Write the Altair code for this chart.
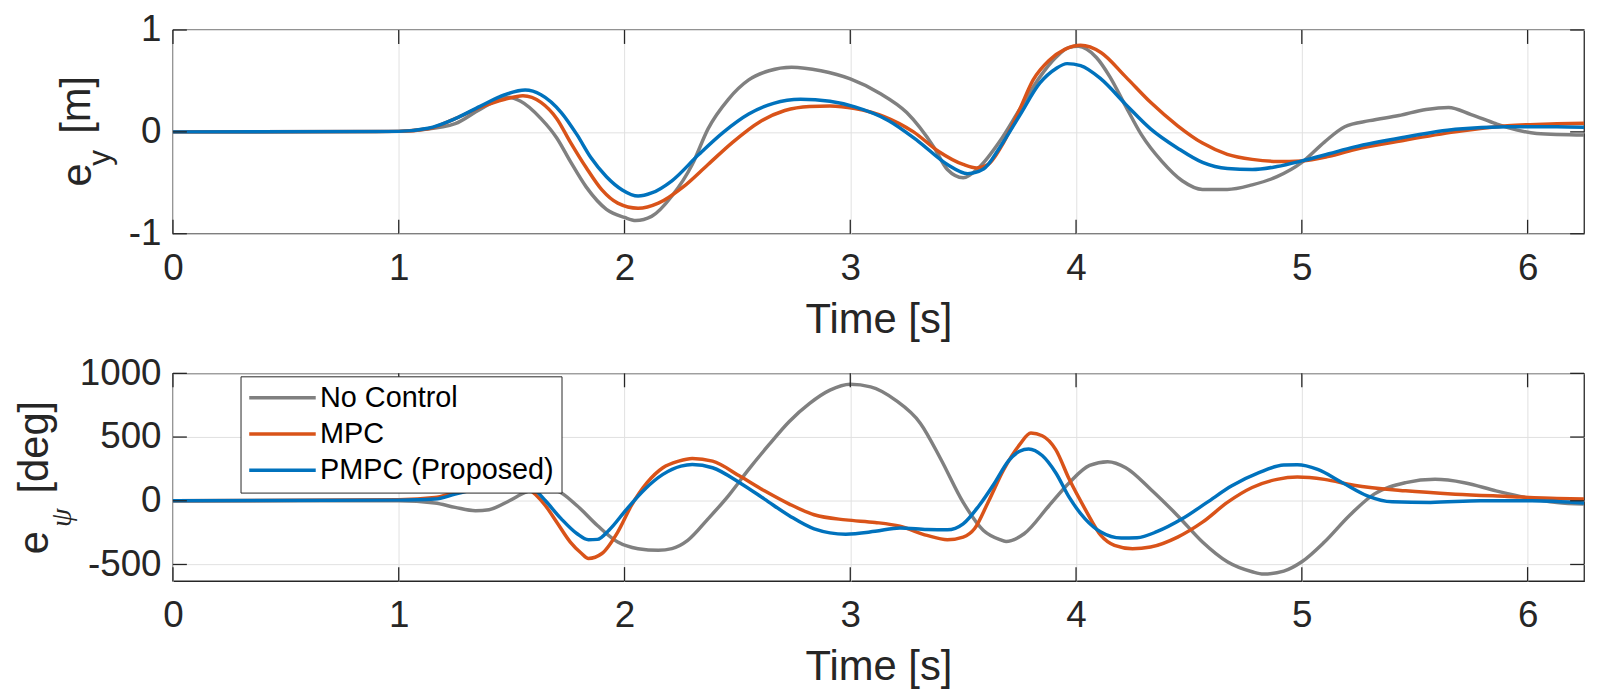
import altair as alt
import pandas as pd

SERIES = ["No Control", "MPC", "PMPC (Proposed)"]
COLORS = ["#808080", "#D95319", "#0072BD"]

# ---------------- e_y [m] ----------------
T_NC_EY = [0, 0.8, 1.0, 1.1, 1.25, 1.36, 1.48, 1.54, 1.63, 1.70, 1.76, 1.83, 1.92, 2.0, 2.05, 2.12,
           2.21, 2.30, 2.37, 2.46, 2.55, 2.64, 2.74, 2.87, 3.0, 3.13, 3.25, 3.37, 3.43, 3.50, 3.57,
           3.66, 3.75, 3.84, 3.91, 3.97, 4.01, 4.09, 4.15, 4.22, 4.29, 4.38, 4.47, 4.56, 4.67, 4.78,
           4.89, 5.0, 5.10, 5.19, 5.30, 5.43, 5.55, 5.65, 5.75, 5.86, 5.95, 6.04, 6.25]
NC_EY = [0, 0, 0.005, 0.02, 0.08, 0.22, 0.34, 0.30, 0.13, -0.06, -0.29, -0.54, -0.76, -0.84, -0.87,
         -0.83, -0.63, -0.32, 0.03, 0.32, 0.51, 0.60, 0.635, 0.60, 0.52, 0.38, 0.19, -0.15, -0.37,
         -0.45, -0.35, -0.10, 0.22, 0.54, 0.73, 0.83, 0.84, 0.73, 0.54, 0.25, -0.03, -0.29, -0.48,
         -0.565, -0.565, -0.52, -0.44, -0.30, -0.10, 0.05, 0.11, 0.16, 0.22, 0.24, 0.17, 0.08, 0.02,
         -0.015, -0.03]

T_MPC_EY = [0, 1.0, 1.13, 1.25, 1.36, 1.47, 1.55, 1.63, 1.70, 1.76, 1.83, 1.90, 1.97, 2.06, 2.15,
            2.26, 2.37, 2.48, 2.60, 2.71, 2.82, 2.91, 3.02, 3.15, 3.28, 3.39, 3.50, 3.56, 3.61, 3.68,
            3.75, 3.81, 3.88, 3.95, 4.02, 4.11, 4.22, 4.33, 4.45, 4.56, 4.67, 4.78, 4.89, 5.0, 5.12,
            5.23, 5.46, 5.68, 5.91, 6.13, 6.25]
MPC_EY = [0, 0.005, 0.03, 0.13, 0.24, 0.32, 0.355, 0.29, 0.13, -0.10, -0.35, -0.57, -0.70, -0.75,
          -0.70, -0.54, -0.32, -0.10, 0.10, 0.21, 0.25, 0.255, 0.23, 0.15, 0.0, -0.19, -0.32, -0.355,
          -0.32, -0.10, 0.22, 0.51, 0.70, 0.81, 0.85, 0.78, 0.54, 0.29, 0.06, -0.11, -0.22, -0.27,
          -0.29, -0.285, -0.24, -0.175, -0.08, 0.0, 0.06, 0.08, 0.085]

T_PMPC_EY = [0, 1.0, 1.13, 1.25, 1.36, 1.47, 1.56, 1.63, 1.72, 1.79, 1.85, 1.92, 1.99, 2.06, 2.12,
             2.21, 2.33, 2.44, 2.55, 2.66, 2.78, 2.91, 3.02, 3.17, 3.30, 3.43, 3.52, 3.59, 3.66, 3.75,
             3.84, 3.91, 3.96, 4.02, 4.11, 4.22, 4.33, 4.45, 4.56, 4.67, 4.78, 4.89, 5.0, 5.12, 5.23,
             5.46, 5.68, 5.91, 6.13, 6.25]
PMPC_EY = [0, 0.005, 0.035, 0.13, 0.25, 0.365, 0.41, 0.365, 0.19, -0.03, -0.25, -0.44, -0.57, -0.63,
           -0.60, -0.48, -0.22, 0.0, 0.175, 0.28, 0.32, 0.30, 0.245, 0.11, -0.09, -0.32, -0.41,
           -0.365, -0.16, 0.16, 0.48, 0.62, 0.67, 0.65, 0.52, 0.27, 0.03, -0.16, -0.30, -0.36, -0.37,
           -0.34, -0.285, -0.215, -0.15, -0.05, 0.025, 0.05, 0.05, 0.045]

# ---------------- e_psi [deg] ----------------
T_NC_EP = [0, 1.0, 1.16, 1.25, 1.34, 1.40, 1.49, 1.56, 1.62, 1.70, 1.79, 1.88, 1.97, 2.06, 2.15, 2.21,
           2.28, 2.37, 2.46, 2.55, 2.64, 2.73, 2.82, 2.91, 3.0, 3.09, 3.20, 3.31, 3.40, 3.50, 3.59,
           3.66, 3.69, 3.77, 3.88, 3.97, 4.06, 4.14, 4.22, 4.33, 4.45, 4.56, 4.67, 4.78, 4.83, 4.92,
           5.0, 5.10, 5.21, 5.32, 5.46, 5.59, 5.72, 5.86, 5.99, 6.13, 6.25]
NC_EP = [0, 0, -18, -52, -78, -70, 0, 65, 96, 78, -39, -194, -324, -376, -389, -376, -311, -142, 39,
         246, 440, 622, 764, 868, 914, 894, 790, 609, 330, -13, -233, -303, -319, -259, -39, 142, 277,
         306, 259, 91, -117, -324, -479, -557, -575, -552, -479, -324, -117, 52, 142, 168, 142, 78,
         26, -13, -26]

T_MPC_EP = [0, 1.0, 1.16, 1.25, 1.35, 1.45, 1.52, 1.57, 1.65, 1.70, 1.76, 1.81, 1.84, 1.90, 1.97,
            2.03, 2.10, 2.17, 2.24, 2.30, 2.39, 2.51, 2.62, 2.73, 2.84, 2.98, 3.11, 3.22, 3.34, 3.43,
            3.50, 3.55, 3.61, 3.68, 3.75, 3.80, 3.85, 3.91, 3.97, 4.04, 4.11, 4.17, 4.25, 4.33, 4.45,
            4.56, 4.67, 4.78, 4.89, 4.98, 5.10, 5.23, 5.46, 5.68, 5.91, 6.13, 6.25]
MPC_EP = [0, 8, 26, 65, 100, 130, 125, 98, -39, -168, -324, -414, -453, -414, -246, -39, 142, 259,
          311, 332, 311, 194, 78, -26, -110, -150, -170, -200, -272, -306, -285, -220, -13, 246, 440,
          531, 510, 401, 168, -65, -272, -350, -376, -363, -285, -168, -13, 104, 168, 186, 168, 122,
          78, 52, 34, 18, 13]

T_PMPC_EP = [0, 1.0, 1.16, 1.25, 1.35, 1.45, 1.52, 1.56, 1.60, 1.65, 1.72, 1.79, 1.84, 1.88, 1.93,
             2.01, 2.09, 2.17, 2.25, 2.30, 2.39, 2.51, 2.62, 2.73, 2.84, 2.98, 3.11, 3.22, 3.34, 3.43,
             3.50, 3.57, 3.64, 3.70, 3.75, 3.79, 3.85, 3.91, 3.97, 4.04, 4.11, 4.20, 4.27, 4.36, 4.47,
             4.58, 4.69, 4.81, 4.92, 4.98, 5.07, 5.18, 5.29, 5.40, 5.57, 5.79, 6.02, 6.25]
PMPC_EP = [0, 5, 13, 52, 95, 125, 135, 125, 91, 0, -142, -259, -306, -303, -233, -65, 91, 207, 272,
           285, 259, 142, 13, -117, -220, -262, -240, -213, -225, -228, -181, -39, 142, 311, 389, 407,
           355, 220, 26, -142, -246, -293, -290, -241, -142, -13, 117, 220, 280, 282, 246, 142, 39, -8,
           -13, 0, 0, -18]

X_TICKS = [0, 1, 2, 3, 4, 5, 6]
X_DOMAIN = [0, 6.25]
EY_TICKS = [-1, 0, 1]
EY_DOMAIN = [-1, 1]
EP_TICKS = [-500, 0, 500, 1000]
EP_DOMAIN = [-630, 1000]
X_TITLE = "Time [s]"
Y_TITLE_TOP = ["e", "y", "[m]"]
Y_TITLE_BOT = ["e", "ψ", "[deg]"]

# ---------------- styling ----------------
W = 1420
H_TOP = 205
H_BOT = 209
AX = "#262626"
GRID = "#e1e1e1"
FONT = "Liberation Sans"
TICK_LEN = 14


def frame(pairs):
    rows = []
    for name, ts, vs in pairs:
        for t, v in zip(ts, vs):
            rows.append({"t": t, "v": v, "series": name})
    return pd.DataFrame(rows)


def panel(df, y_domain, y_ticks, height, title_parts, legend):
    xenc = alt.X("t:Q", scale=alt.Scale(domain=X_DOMAIN, nice=False, zero=False),
                 axis=alt.Axis(values=X_TICKS, title=X_TITLE, labelExpr="toString(datum.value)"))
    yenc = alt.Y("v:Q", scale=alt.Scale(domain=y_domain, nice=False, zero=False),
                 axis=alt.Axis(values=y_ticks, title=None, labelExpr="toString(datum.value)"))
    lines = alt.Chart(df).mark_line(strokeWidth=3.5, interpolate="monotone").encode(
        x=xenc, y=yenc,
        color=alt.Color("series:N", scale=alt.Scale(domain=SERIES, range=COLORS),
                        sort=SERIES, legend=legend),
    )
    xt = pd.DataFrame({"t": X_TICKS})
    yt = pd.DataFrame({"v": y_ticks})
    rule = dict(color=AX, strokeWidth=1.3)
    xtop = alt.Chart(xt).mark_rule(**rule).encode(x=xenc, y=alt.value(0), y2=alt.value(TICK_LEN))
    xbot = alt.Chart(xt).mark_rule(**rule).encode(x=xenc, y=alt.value(height - TICK_LEN),
                                                  y2=alt.value(height))
    yleft = alt.Chart(yt).mark_rule(**rule).encode(y=yenc, x=alt.value(0), x2=alt.value(TICK_LEN))
    yright = alt.Chart(yt).mark_rule(**rule).encode(y=yenc, x=alt.value(W - TICK_LEN),
                                                    x2=alt.value(W))
    texts = []
    for label, x, y, size, font, style in title_parts:
        texts.append(
            alt.Chart(pd.DataFrame({"label": [label]})).mark_text(
                align="left", baseline="alphabetic", angle=270, fontSize=size, font=font,
                fontStyle=style, color=AX,
            ).encode(text="label:N", x=alt.value(x), y=alt.value(y))
        )
    return alt.layer(lines, xtop, xbot, yleft, yright, *texts).properties(width=W, height=height)


df_top = frame([(SERIES[0], T_NC_EY, NC_EY), (SERIES[1], T_MPC_EY, MPC_EY),
                (SERIES[2], T_PMPC_EY, PMPC_EY)])
df_bot = frame([(SERIES[0], T_NC_EP, NC_EP), (SERIES[1], T_MPC_EP, MPC_EP),
                (SERIES[2], T_PMPC_EP, PMPC_EP)])

top_title = [
    (Y_TITLE_TOP[0], -82.7, 157.5, 42, FONT, "normal"),
    (Y_TITLE_TOP[1], -63.7, 136.5, 32, FONT, "normal"),
    (Y_TITLE_TOP[2], -83.5, 104.5, 42, FONT, "normal"),
]
bot_title = [
    (Y_TITLE_BOT[0], -125.5, 182.0, 42, FONT, "normal"),
    (Y_TITLE_BOT[1], -103.0, 154.5, 30, "Liberation Serif", "italic"),
    (Y_TITLE_BOT[2], -125.5, 121.0, 42, FONT, "normal"),
]

legend = alt.Legend(
    orient="none", legendX=68, legendY=3, title=None,
    symbolType="M-1,0H4.25", symbolSize=650, symbolStrokeWidth=3.5,
    labelFontSize=29, labelFont=FONT, labelColor="#000000", labelOffset=44, labelLimit=600,
    labelExpr="datum.label + '\u00a0\u00a0'",
    padding=7, rowPadding=6.5, strokeColor=AX, fillColor="white",
)

top = panel(df_top, EY_DOMAIN, EY_TICKS, H_TOP, top_title, None)
bot = panel(df_bot, EP_DOMAIN, EP_TICKS, H_BOT, bot_title, legend)

chart = alt.vconcat(
    top, bot, spacing=140.5, bounds="flush",
    padding={"top": 0, "left": 5, "right": 0, "bottom": 0},
).resolve_scale(color="independent").resolve_legend(color="independent").configure_view(
    stroke=AX, strokeWidth=1.3
).configure_axis(
    labelFont=FONT, labelFontSize=37, labelColor=AX, titleFont=FONT, titleFontSize=42,
    titleFontWeight="normal", titleColor=AX, grid=True, gridColor=GRID, gridWidth=1,
    ticks=False, tickSize=0, domain=False, labelOverlap=False, labelFlush=False,
).configure_axisX(labelPadding=17, titlePadding=13).configure_axisY(labelPadding=12)

chart.save("out.html", embed_options={"renderer": "svg", "actions": False})
